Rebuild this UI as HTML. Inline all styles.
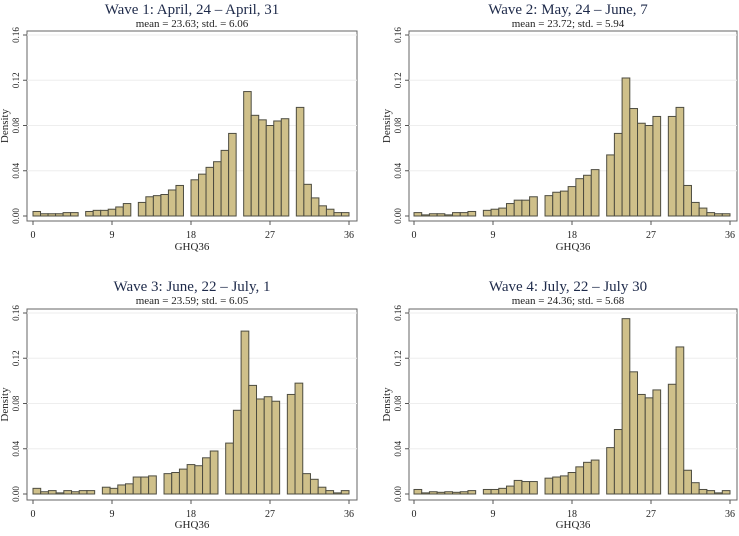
<!DOCTYPE html>
<html><head><meta charset="utf-8"><style>
body{margin:0;background:#fff;width:739px;height:531px;overflow:hidden}
svg text{font-family:"Liberation Serif",serif;fill:#222}
</style></head><body>
<svg id="chart" width="739" height="531"></svg>
<script>
const titles=["Wave 1: April, 24 \u2013 April, 31","Wave 2: May, 24 \u2013 June, 7","Wave 3: June, 22 \u2013 July, 1","Wave 4: July, 22 \u2013 July 30"];
const subtitles=["mean = 23.63; std. = 6.06","mean = 23.72; std. = 5.94","mean = 23.59; std. = 6.05","mean = 24.36; std. = 5.68"];
const xTicks=[0,9,18,27,36];
const yTicks=[0,0.04,0.08,0.12,0.16];
const yTickLabels=["0.00","0.04","0.08","0.12","0.16"];
// null = empty bin
const wave1=[0.004,0.002,0.002,0.002,0.003,0.003,null,0.004,0.005,0.005,0.006,0.008,0.011,null,0.012,0.017,0.018,0.019,0.023,0.027,null,0.032,0.037,0.043,0.048,0.058,0.073,null,0.110,0.089,0.085,0.080,0.084,0.086,null,0.096,0.028,0.016,0.009,0.006,0.003,0.003];
const wave2=[0.003,0.001,0.002,0.002,0.001,0.003,0.003,0.004,null,0.005,0.006,0.007,0.011,0.014,0.014,0.017,null,0.018,0.021,0.022,0.026,0.033,0.036,0.041,null,0.054,0.073,0.122,0.095,0.082,0.080,0.088,null,0.088,0.096,0.027,0.012,0.007,0.003,0.002,0.002];
const wave3=[0.005,0.002,0.003,0.001,0.003,0.002,0.003,0.003,null,0.006,0.005,0.008,0.009,0.015,0.015,0.016,null,0.018,0.019,0.022,0.026,0.025,0.032,0.038,null,0.045,0.074,0.144,0.096,0.084,0.086,0.082,null,0.088,0.098,0.018,0.013,0.006,0.003,0.001,0.003];
const wave4=[0.004,0.001,0.002,0.0015,0.002,0.0015,0.002,0.003,null,0.004,0.004,0.005,0.007,0.012,0.011,0.011,null,0.014,0.015,0.016,0.019,0.024,0.028,0.030,null,0.041,0.057,0.155,0.108,0.088,0.085,0.092,null,0.097,0.130,0.021,0.010,0.004,0.003,0.001,0.003];
const waves=[wave1,wave2,wave3,wave4];
const panels=[
 {fx:27,fr:357,ft:31,fb:221,x0:33,x1:349,y0:216,y1:35,cx:192,ty:14,sy:27,xl:238,xt:250},
 {fx:409,fr:737,ft:31,fb:221,x0:414,x1:730,y0:216,y1:35,cx:568,ty:14,sy:27,xl:238,xt:250},
 {fx:27,fr:357,ft:309,fb:500,x0:33,x1:349,y0:494,y1:313,cx:192,ty:291,sy:304,xl:517,xt:528},
 {fx:409,fr:737,ft:309,fb:500,x0:414,x1:730,y0:494,y1:313,cx:568,ty:291,sy:304,xl:517,xt:528}];
const NS="http://www.w3.org/2000/svg";
const svg=document.getElementById('chart');
function mk(tag,attrs,parent){const e=document.createElementNS(NS,tag);for(const k in attrs)e.setAttribute(k,attrs[k]);(parent||svg).appendChild(e);return e;}
panels.forEach((p,i)=>{
 const g=mk('g',{});
 
 
 const sx=v=>p.x0+(v/36)*(p.x1-p.x0);
 const sy=v=>p.y0-(v/0.16)*(p.y0-p.y1);
 const fr=mk('rect',{x:p.fx,y:p.ft,width:p.fr-p.fx,height:p.fb-p.ft,fill:'#fff',stroke:'#666','stroke-width':1},g);
 
 
 yTicks.forEach((t,j)=>{
  const y=sy(t);
  if(j>0){const gl=mk('line',{x1:p.fx,x2:p.fr,y1:y,y2:y,stroke:'#eeeeee','stroke-width':1},g);
   }
  mk('line',{x1:p.fx-4,x2:p.fx,y1:y,y2:y,stroke:'#555'},g);
  const tl=mk('text',{x:0,y:0,'font-size':9,'text-anchor':'middle',transform:`translate(${p.fx-8},${y}) rotate(-90)`},g);
  tl.textContent=yTickLabels[j];
  
  
 });
 const bw=36/waves[i].length;
 waves[i].forEach((v,k)=>{
  if(v===null)return;
  const b=mk('rect',{x:sx(k*bw),y:sy(v),width:sx((k+1)*bw)-sx(k*bw),height:sy(0)-sy(v),fill:'#cfc08a',stroke:'#4d4c40','stroke-width':1},g);
  
  
 });
 xTicks.forEach(t=>{
  const x=sx(t);
  mk('line',{x1:x,x2:x,y1:p.fb,y2:p.fb+4,stroke:'#555'},g);
  const tl=mk('text',{x:x,y:p.xl,'font-size':10,'text-anchor':'middle'},g);
  tl.textContent=t;
  
  
 });
 const xt=mk('text',{x:(p.fx+p.fr)/2,y:p.xt,'font-size':11,'text-anchor':'middle'},g);
 xt.textContent='GHQ36';
 
 
 const yt=mk('text',{x:0,y:0,'font-size':11,'text-anchor':'middle',transform:`translate(${p.fx-19},${(p.ft+p.fb)/2}) rotate(-90)`},g);
 yt.textContent='Density';
 
 
 const tt=mk('text',{x:p.cx,y:p.ty,'font-size':15,'text-anchor':'middle',style:'fill:#1e2a4a'},g);
 tt.textContent=titles[i];
 
 
 const st=mk('text',{x:p.cx,y:p.sy,'font-size':11,'text-anchor':'middle'},g);
 st.textContent=subtitles[i];
 
 
});
</script>
</body></html>
